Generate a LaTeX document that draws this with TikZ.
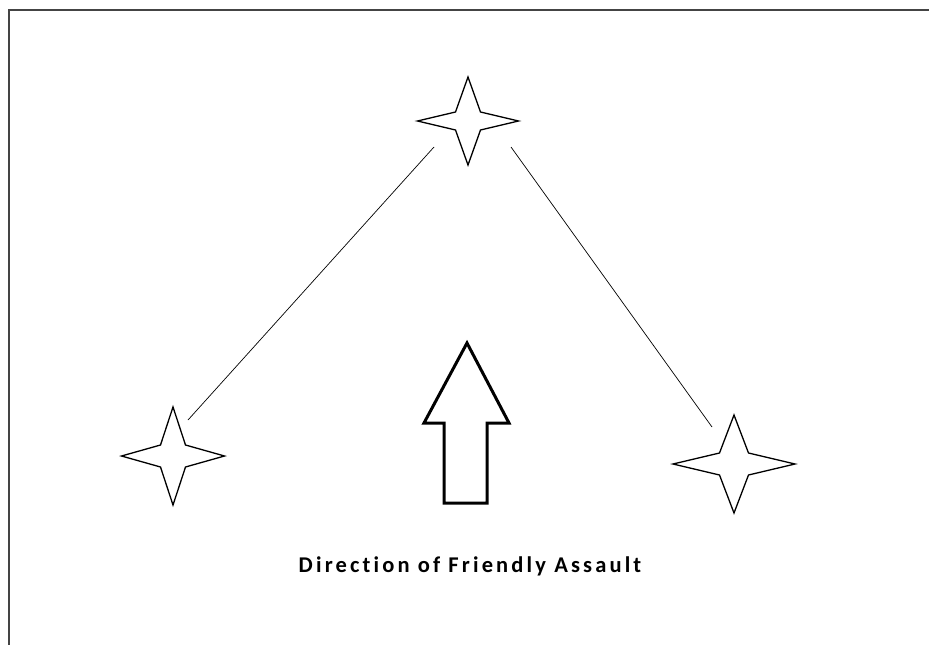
\documentclass[tikz,border=0pt]{standalone}
\usepackage{fontspec}
\newfontfamily\labelfont{Carlito}[LetterSpace=14,Ligatures=NoCommon]
\usetikzlibrary{calc}
\definecolor{frame}{HTML}{444444}

\begin{document}
\begin{tikzpicture}[x=1pt,y=-1pt,
    starline/.style={draw=black,line width=1.3pt,fill=white},
    flank/.style={draw=black,line width=0.7pt},
    push/.style={draw=black,line width=3pt,line join=miter,fill=white},
    caption/.style={font=\labelfont\bfseries\fontsize{22.5}{26}\selectfont,inner sep=0pt},
    pics/sparkle/.style n args={4}{code={
        \path[starline] (0,-#2) -- (#3,-#4) -- (#1,0) -- (#3,#4) -- (0,#2)
          -- (-#3,#4) -- (-#1,0) -- (-#3,-#4) -- cycle;}}]
  \useasboundingbox (0,0) rectangle (929,645);
  % frame: only top and left edges show
  \draw[frame,line width=1.5pt] (929,10) -- (9,10) -- (9,645);
  % objective and the two flanking positions
  \pic (top) at (468,121) {sparkle={50.5}{44}{12.5}{9}};
  \pic (lft) at (173,456) {sparkle={51.5}{49}{12.5}{11}};
  \pic (rgt) at (734,464) {sparkle={61}{49}{14.5}{11}};
  \coordinate (topL) at (434,147);
  \coordinate (topR) at (511,147);
  \coordinate (lftE) at (188,420);
  \coordinate (rgtE) at (712,427);
  \draw[flank] (lftE) -- (topL);
  \draw[flank] (rgtE) -- (topR);
  % assault arrow
  \coordinate (tip) at (467,343);
  \path[push] (tip) -- (509,423) -- (487,423) -- (487,503) -- (444,503)
    -- (444,423) -- (424,423) -- cycle;
  \node[caption,anchor=base] (cap) at (470,572.5) {Direction of Friendly Assault};
\end{tikzpicture}
\end{document}
